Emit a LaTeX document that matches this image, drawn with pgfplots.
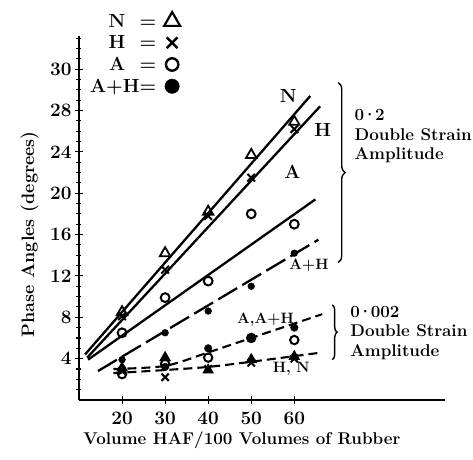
\documentclass[border=0pt]{standalone}
\usepackage{fontspec}
\usepackage{pgfplots}
\pgfplotsset{compat=1.18}
\usetikzlibrary{decorations.pathreplacing}

\newcommand{\labfont}{\fontsize{19}{22}\selectfont\bfseries}
\newcommand{\notefont}{\fontsize{17}{19.5}\selectfont\bfseries}
\newcommand{\curvefont}{\fontsize{15}{18}\selectfont\bfseries}
\newcommand{\xtitlefont}{\fontsize{17}{20}\selectfont\bfseries}
\newcommand{\ytitlefont}{\fontsize{18}{20}\selectfont\bfseries}

\begin{document}
\begin{tikzpicture}
\useasboundingbox (-79pt,-59pt) rectangle (394pt,400pt);
\begin{axis}[
  scale only axis, width=366pt, height=364pt,
  xmin=10, xmax=95, ymin=0, ymax=35.2,
  axis x line=bottom, axis y line=left,
  axis line style={-, line width=1.4pt},
  xtick={20,30,40,50,60},
  ytick={4,8,12,16,20,24,28,32},
  yticklabels={4,8,12,16,20,24,28,30},
  minor ytick={1,2,...,35},
  tick align=center,
  major tick length=8pt, minor tick length=5pt,
  every tick/.style={line width=1.1pt, black},
  /pgf/number format/assume math mode=true,
  tick label style={font=\labfont},
  xticklabel style={yshift=-4pt},
  clip=false,
  legend plot pos=right,
  legend cell align=right,
  legend style={draw=none, fill=none, font=\labfont,
    at={(axis description cs:0.285,1.072)}, anchor=north east,
    row sep=3pt, column sep=6pt},
  mark size=4pt,
]

% fitted lines, 0.2 double strain amplitude
\addplot[line width=2.3pt, forget plot] coordinates {(11.4,4.4) (63.7,29.4)};
\addplot[line width=2.3pt, forget plot] coordinates {(11.9,4.1) (66.0,28.4)};
\addplot[line width=2.3pt, forget plot] coordinates {(12.1,3.9) (64.9,19.4)};
\addplot[line width=2.3pt, dash pattern=on 22pt off 6pt, forget plot]
  coordinates {(14.4,2.8) (65.6,15.5)};

% fitted curves, 0.002 double strain amplitude
\addplot[line width=2.1pt, dash pattern=on 9pt off 5pt, smooth, forget plot]
  coordinates {(18,3.0) (30,3.3) (40,4.6) (50,6.0) (66.5,8.3)};
\addplot[line width=2.1pt, dash pattern=on 9pt off 5pt, smooth, forget plot]
  coordinates {(18,2.6) (30,2.9) (40,3.2) (50,3.7) (66.5,4.6)};

% measured points, 0.2
\addplot[only marks, mark=triangle, mark options={line width=1.8pt, fill=white, scale=1.5}, forget plot]
  coordinates {(20,8.5) (30,14.2) (40,18.2) (50,23.7) (60,26.9)};
\addplot[only marks, mark=x, mark options={line width=2pt, scale=1.35}, forget plot]
  coordinates {(20,8.1) (30,12.6) (40,17.8) (50,21.5) (60,26.2)};
\addplot[only marks, mark=o, mark options={line width=2pt, fill=white, scale=1.1}, forget plot]
  coordinates {(20,6.5) (30,9.9) (40,11.5) (50,18.0) (60,17.0)};
\addplot[only marks, mark=*, mark options={scale=0.85}, forget plot]
  coordinates {(20,3.9) (30,6.5) (40,8.6) (50,11.0) (60,14.2)};

% measured points, 0.002
\addplot[only marks, mark=o, mark options={line width=2pt, fill=white, scale=1.05}, forget plot]
  coordinates {(20,2.5) (30,3.5) (40,4.1) (50,6.0) (60,5.8)};
\addplot[only marks, mark=*, mark options={scale=0.95}, forget plot]
  coordinates {(20,3.0) (30,3.2) (40,5.0) (50,6.0) (60,7.0)};
\addplot[only marks, mark=triangle*, mark options={line width=1.4pt, scale=1.35}, forget plot]
  coordinates {(20,3.1) (30,4.1) (40,2.9) (50,3.9) (60,4.2)};
\addplot[only marks, mark=x, mark options={line width=2pt, scale=1.3}, forget plot]
  coordinates {(20,2.8) (30,2.2) (40,3.0) (50,3.6) (60,4.0)};

% key
\addlegendimage{only marks, mark=triangle, mark options={line width=2.2pt, scale=2.3}}
\addlegendentry{N \ =}
\addlegendimage{only marks, mark=x, mark options={line width=2.4pt, scale=1.9}}
\addlegendentry{H \ =}
\addlegendimage{only marks, mark=o, mark options={line width=2.4pt, scale=1.55}}
\addlegendentry{A \ =}
\addlegendimage{only marks, mark=*, mark options={scale=1.8}}
\addlegendentry{A+H=}

% axis titles
\node[font=\xtitlefont, anchor=center]
  at (axis description cs:0.445,-0.11) {Volume HAF/100 Volumes of Rubber};
\node[font=\ytitlefont, rotate=90, anchor=center]
  at (axis description cs:-0.135,0.455) {Phase Angles (degrees)};

% curve labels
\node[font=\labfont] at (axis cs:58.6,29.4) {N};
\node[font=\labfont] at (axis cs:66.6,26.1) {H};
\node[font=\labfont] at (axis cs:59.6,22.1) {A};
\node[font=\curvefont] at (axis cs:63.4,13.0) {A+H};
\node[font=\curvefont] at (axis cs:53.3,7.8) {A,A+H};
\node[font=\curvefont] at (axis cs:59.3,3.0) {H,\ N};

% strain amplitude groups
\draw[line width=1.4pt, decorate, decoration={brace, amplitude=7pt}]
  (axis cs:70.2,30.7) -- (axis cs:70.2,13.3);
\node[font=\notefont, anchor=west, align=left] at (axis cs:73.2,25.5)
  {0\kern-2pt·\kern-2pt2\\Double Strain\\Amplitude};
\draw[line width=1.4pt, decorate, decoration={brace, amplitude=5pt}]
  (axis cs:68.8,9.2) -- (axis cs:68.8,3.9);
\node[font=\notefont, anchor=west, align=left] at (axis cs:72.2,6.5)
  {0\kern-2pt·\kern-2pt002\\Double Strain\\Amplitude};
\end{axis}
\end{tikzpicture}
\end{document}
